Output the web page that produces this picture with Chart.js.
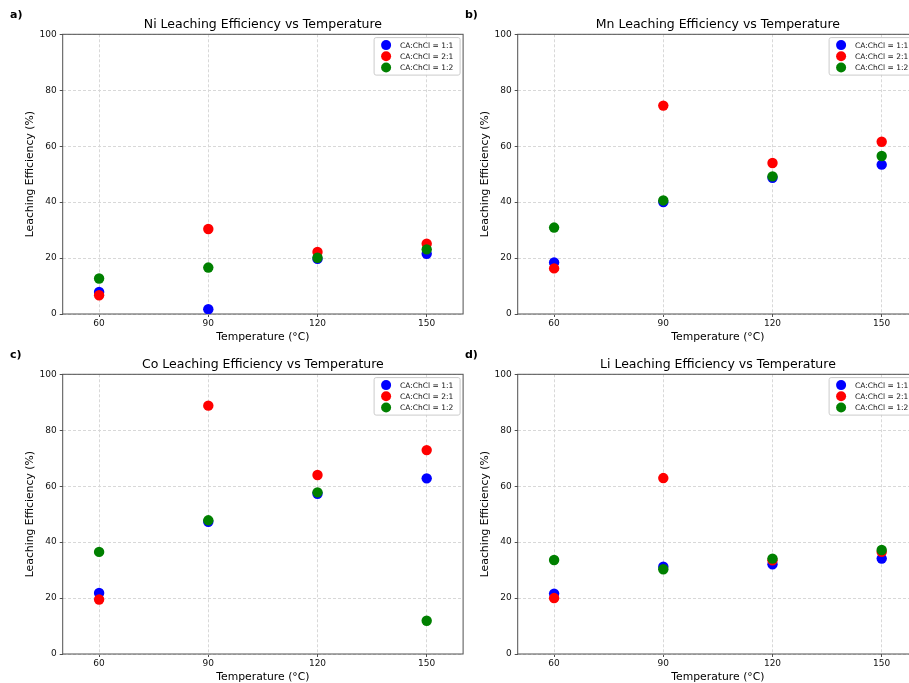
<!DOCTYPE html>
<html>
<head>
<meta charset="utf-8">
<script src="https://cdn.jsdelivr.net/npm/chart.js@4.4.1/dist/chart.umd.min.js"></script>
<style>
    body { margin: 0; background: #fff; width: 909px; height: 683px; overflow: hidden; position: relative; }
    .panel { position: absolute; width: 470px; height: 345px; }
</style>
</head>
<body>
<div class="panel" style="left:0;top:0"><canvas id="ni" width="470" height="345"></canvas></div>
<div class="panel" style="left:455px;top:0"><canvas id="mn" width="470" height="345"></canvas></div>
<div class="panel" style="left:0;top:340px"><canvas id="co" width="470" height="345"></canvas></div>
<div class="panel" style="left:455px;top:340px"><canvas id="li" width="470" height="345"></canvas></div>
<script>
const temperatures = [60, 90, 120, 150];
const ratioLabels = ['CA:ChCl = 1:1', 'CA:ChCl = 2:1', 'CA:ChCl = 1:2'];
const ratioColors = ['#0000ff', '#ff0000', '#008000'];
const yTicks = [0, 20, 40, 60, 80, 100];

// leaching efficiency (%) per ratio, at 60/90/120/150 °C
const ni11 = [7.9, 1.7, 19.7, 21.5];
const ni21 = [6.7, 30.4, 22.2, 25.1];
const ni12 = [12.7, 16.6, 20.1, 23.1];

const mn11 = [18.4, 40.0, 48.7, 53.4];
const mn21 = [16.3, 74.5, 54.0, 61.6];
const mn12 = [30.9, 40.6, 49.2, 56.5];

const co11 = [21.8, 47.3, 57.3, 62.8];
const co21 = [19.5, 88.8, 64.0, 72.9];
const co12 = [36.5, 47.8, 57.8, 11.9];

const li11 = [21.6, 31.2, 32.1, 34.1];
const li21 = [20.0, 62.9, 33.5, 36.5];
const li12 = [33.6, 30.3, 34.1, 37.2];

const panels = [
    { id: 'ni', tag: 'a)', title: 'Ni Leaching Efficiency vs Temperature', series: [ni11, ni21, ni12] },
    { id: 'mn', tag: 'b)', title: 'Mn Leaching Efficiency vs Temperature', series: [mn11, mn21, mn12] },
    { id: 'co', tag: 'c)', title: 'Co Leaching Efficiency vs Temperature', series: [co11, co21, co12] },
    { id: 'li', tag: 'd)', title: 'Li Leaching Efficiency vs Temperature', series: [li11, li21, li12] }
];

Chart.defaults.font.family = 'DejaVu Sans';
Chart.defaults.color = '#111';

const frame = {
    id: 'frame',
    beforeDatasetsDraw(chart) {
        const { ctx, chartArea: a } = chart;
        ctx.save();
        ctx.strokeStyle = '#505050';
        ctx.lineWidth = 1;
        ctx.strokeRect(a.left, a.top, a.right - a.left, a.bottom - a.top);
        ctx.restore();
    }
};

const boxLegend = {
    id: 'boxLegend',
    afterDraw(chart, args, opts) {
        const { ctx, chartArea: a } = chart;
        const w = 86, h = 37.5;
        const x = a.right - 89, y = a.top + 3.3;
        ctx.save();
        ctx.beginPath();
        ctx.roundRect(x, y, w, h, 2);
        ctx.fillStyle = 'rgba(255,255,255,0.8)';
        ctx.fill();
        ctx.strokeStyle = '#ccc';
        ctx.lineWidth = 1;
        ctx.stroke();
        ctx.font = '7.5px "DejaVu Sans"';
        ctx.textBaseline = 'middle';
        chart.data.datasets.forEach((ds, i) => {
            const cy = y + 7.5 + i * 11.2;
            ctx.beginPath();
            ctx.arc(x + 12, cy, 5, 0, Math.PI * 2);
            ctx.fillStyle = ds.backgroundColor;
            ctx.fill();
            ctx.fillStyle = '#111';
            ctx.fillText(ds.label, x + 26, cy + 0.5);
        });
        // panel letter
        ctx.font = 'bold 11px "DejaVu Sans"';
        ctx.fillStyle = '#000';
        ctx.fillText(opts.tag, 10, 15);
        ctx.restore();
    }
};

panels.forEach(p => {
    const datasets = p.series.map((vals, i) => ({
        label: ratioLabels[i],
        data: temperatures.map((t, j) => ({ x: t, y: vals[j] })),
        backgroundColor: ratioColors[i],
        borderColor: ratioColors[i],
        borderWidth: 0,
        pointRadius: 5.2,
        pointHoverRadius: 5.2,
        order: 3 - i
    }));

    new Chart(document.getElementById(p.id), {
        type: 'scatter',
        data: { datasets },
        plugins: [frame, boxLegend],
        options: {
            responsive: false,
            animation: false,
            events: [],
            layout: { padding: { left: 0, top: 0, right: 6.9, bottom: 0 } },
            plugins: {
                legend: { display: false },
                tooltip: { enabled: false },
                boxLegend: { tag: p.tag },
                title: {
                    display: true,
                    text: p.title,
                    fullSize: false,
                    color: '#000',
                    font: { size: 12.5, weight: 'normal' },
                    padding: { top: 17.5, bottom: 1.8 }
                }
            },
            scales: {
                x: {
                    type: 'linear',
                    min: 50,
                    max: 160,
                    afterFit: s => { s.height = 31; },
                    afterBuildTicks: s => { s.ticks = temperatures.map(v => ({ value: v })); },
                    ticks: { font: { size: 9 }, color: '#111', padding: 1 },
                    grid: { color: '#d8d8d8', tickColor: '#505050', tickLength: 3, tickWidth: 1 },
                    border: { display: false, dash: [3, 2] },
                    title: {
                        display: true,
                        text: 'Temperature (°C)',
                        color: '#000',
                        font: { size: 10.8 },
                        padding: { top: 0, bottom: 1.8 }
                    }
                },
                y: {
                    min: 0,
                    max: 100,
                    afterFit: s => { s.width = 62.7; },
                    afterBuildTicks: s => { s.ticks = yTicks.map(v => ({ value: v })); },
                    ticks: { font: { size: 9 }, color: '#111', padding: 3 },
                    grid: { color: '#d8d8d8', tickColor: '#505050', tickLength: 3, tickWidth: 1 },
                    border: { display: false, dash: [3, 2] },
                    title: {
                        display: true,
                        text: 'Leaching Efficiency (%)',
                        color: '#000',
                        font: { size: 10.8 },
                        padding: { top: 23.5, bottom: 0 }
                    }
                }
            }
        }
    });
});
</script>
</body>
</html>
